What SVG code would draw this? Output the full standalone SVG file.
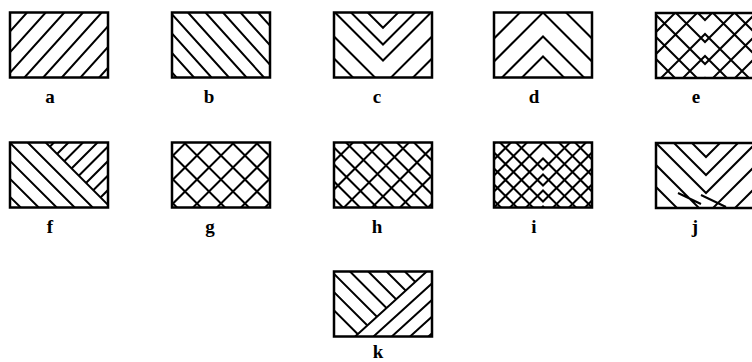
<svg xmlns="http://www.w3.org/2000/svg" width="752" height="362" viewBox="0 0 752 362">
<style>
.h{fill:none;stroke:#000;stroke-width:2}
.bx{fill:none;stroke:#000;stroke-width:2.5}
.lbl{font-family:"Liberation Serif","Times New Roman",serif;font-size:19px;font-weight:bold;text-anchor:middle;fill:#000}
</style>
<defs>
<clipPath id="cb"><rect width="98" height="65"/></clipPath>
<clipPath id="cf"><polygon points="35.7,0 100,0 100,64.3"/></clipPath>
<clipPath id="ck"><polygon points="0,0 92.7,0 21.2,65 0,65"/></clipPath>
</defs>
<rect width="752" height="362" fill="#fff"/>

<g id="a" transform="translate(10,12.5)">
<g clip-path="url(#cb)"><path class="h" d="M17,0L-41.5,65M35.7,0L-22.8,65M54.3,0L-4.2,65M73,0L14.5,65M91.7,0L33.2,65M110.3,0L51.8,65M129,0L70.5,65M147.7,0L89.2,65"/></g>
<rect class="bx" width="98" height="65"/>
<text class="lbl" x="40" y="90">a</text>
</g>

<g id="b" transform="translate(172,12.5)">
<g clip-path="url(#cb)"><path class="h" d="M-54,0L4.5,65M-36.5,0L22,65M-19,0L39.5,65M-1.5,0L57,65M16,0L74.5,65M33.5,0L92,65M51,0L109.5,65M68.5,0L127,65M86,0L144.5,65"/></g>
<rect class="bx" width="98" height="65"/>
<text class="lbl" x="37" y="90">b</text>
</g>

<g id="c" transform="translate(334,12.5)">
<g clip-path="url(#cb)"><path class="h" d="M-20,-53.7L49,15.3L118,-53.7M-20,-37L49,32L118,-37M-20,-21L49,48L118,-21M-20,4L49,73L118,4M-20,26L49,95L118,26"/></g>
<rect class="bx" width="98" height="65"/>
<text class="lbl" x="43" y="90">c</text>
</g>

<g id="d" transform="translate(494,12.5)">
<g clip-path="url(#cb)"><path class="h" d="M-31,57L49,-23L129,57M-31,80L49,0L129,80M-31,104L49,24L129,104M-31,124L49,44L129,124"/></g>
<rect class="bx" width="98" height="65"/>
<text class="lbl" x="40" y="90">d</text>
</g>

<g id="e" transform="translate(656,13)">
<g clip-path="url(#cb)"><path class="h" d="M-20,-62L49,7L118,-62M-20,-40L49,29L118,-40M-20,-18L49,51L118,-18M-20,4L49,73L118,4M-20,26L49,95L118,26M-20,48L49,117L118,48M-31,28L49,-52L129,28M-31,50L49,-30L129,50M-31,72L49,-8L129,72M-31,101L49,21L129,101M-31,123L49,43L129,123M-31,145L49,65L129,145"/></g>
<rect class="bx" width="98" height="65"/>
<text class="lbl" x="40" y="89.5">e</text>
</g>

<g id="f" transform="translate(10,142.5)">
<g clip-path="url(#cb)">
<path class="h" d="M35.7,0L100.7,65M17.7,0L82.7,65M-0.3,0L64.7,65M-18.3,0L46.7,65M-36.3,0L28.7,65M-54.3,0L10.7,65"/>
<g clip-path="url(#cf)"><path class="h" d="M44,0L-21,65M58.5,0L-6.5,65M73,0L8,65M87.5,0L22.5,65M102,0L37,65M116.5,0L51.5,65M131,0L66,65M145.5,0L80.5,65M160,0L95,65"/></g>
</g>
<rect class="bx" width="98" height="65"/>
<text class="lbl" x="40" y="90">f</text>
</g>

<g id="g" transform="translate(172,142.5)">
<g clip-path="url(#cb)"><path class="h" d="M14,0L-51,65M38,0L-27,65M62,0L-3,65M86,0L21,65M110,0L45,65M134,0L69,65M158,0L93,65M-60,0L5,65M-36,0L29,65M-12,0L53,65M12,0L77,65M36,0L101,65M60,0L125,65M84,0L149,65"/></g>
<rect class="bx" width="98" height="65"/>
<text class="lbl" x="38" y="90">g</text>
</g>

<g id="h" transform="translate(334,142.5)">
<g clip-path="url(#cb)"><path class="h" d="M-56,0L9,65M-39,0L26,65M-22,0L43,65M-5,0L60,65M12,0L77,65M29,0L94,65M46,0L111,65M63,0L128,65M80,0L145,65M97,0L162,65M19,0L-46,65M47,0L-18,65M75,0L10,65M103,0L38,65M131,0L66,65M159,0L94,65"/></g>
<rect class="bx" width="98" height="65"/>
<text class="lbl" x="43" y="90">h</text>
</g>

<g id="i" transform="translate(494,142.5)">
<g clip-path="url(#cb)"><path class="h" d="M-20,-42L49,27L118,-42M-20,-26L49,43L118,-26M-20,-10L49,59L118,-10M-20,6L49,75L118,6M-20,22L49,91L118,22M-20,38L49,107L118,38M-31,32L49,-48L129,32M-31,48L49,-32L129,48M-31,64L49,-16L129,64M-31,80L49,0L129,80M-31,96L49,16L129,96M-31,112L49,32L129,112M-31,128L49,48L129,128M-31,144L49,64L129,144"/></g>
<rect class="bx" width="98" height="65"/>
<text class="lbl" x="40" y="90">i</text>
</g>

<g id="j" transform="translate(656,143)">
<g clip-path="url(#cb)"><path class="h" d="M-19,-55L50,14L119,-55M-19,-37L50,32L119,-37M-19,-19L50,50L119,-19M-19,3L50,72L119,3M-19,25L50,94L119,25M22,50L45,61M45,52L70,64"/></g>
<rect class="bx" width="98" height="65"/>
<text class="lbl" x="39" y="89.5">j</text>
</g>

<g id="k" transform="translate(334,271.5)">
<g clip-path="url(#cb)">
<path class="h" d="M92.7,0L21.2,65M111,0L39.5,65M129.3,0L57.8,65M147.6,0L76.1,65M165.9,0L94.4,65"/>
<g clip-path="url(#ck)"><path class="h" d="M-38.9,0L26.1,65M-20.6,0L44.4,65M-2.3,0L62.7,65M16,0L81,65M34.3,0L99.3,65M52.6,0L117.6,65M70.9,0L135.9,65"/></g>
</g>
<rect class="bx" width="98" height="65"/>
<text class="lbl" x="44" y="86.5">k</text>
</g>
</svg>
